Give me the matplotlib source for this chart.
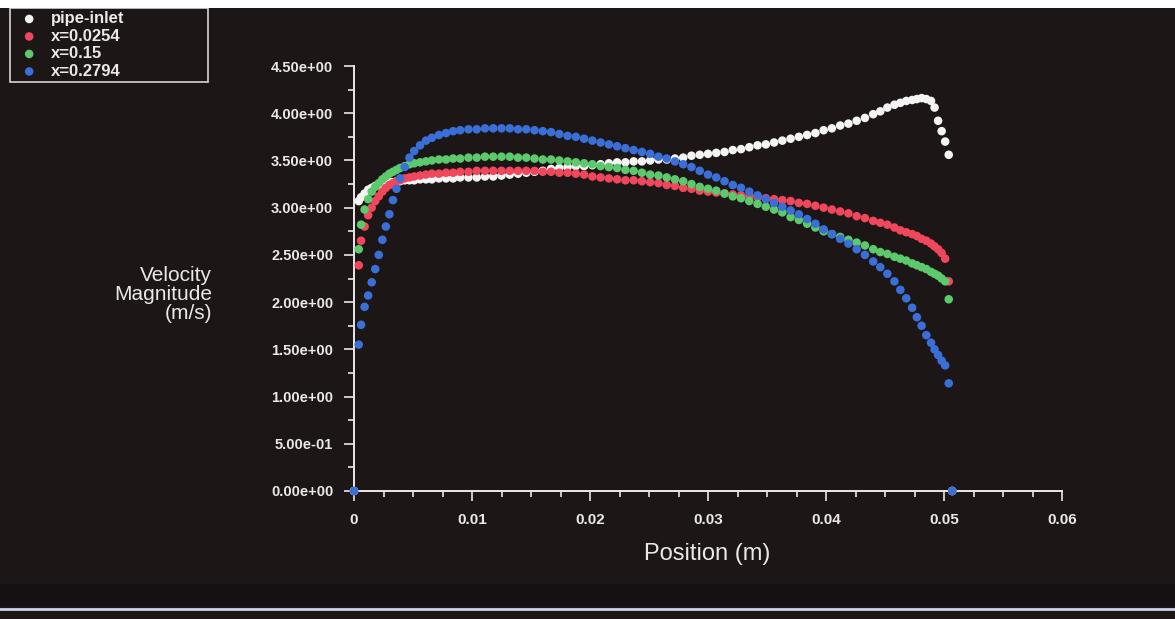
import matplotlib
matplotlib.use("Agg")
import matplotlib.pyplot as plt
import numpy as np
from matplotlib.patches import Rectangle
from matplotlib.lines import Line2D
from matplotlib.ticker import MultipleLocator, FormatStrFormatter

plt.rcParams['font.family'] = ['Liberation Sans', 'DejaVu Sans']

# radial positions of the sampled nodes (m)
position = [
    0.0, 0.0004, 0.0006, 0.0009, 0.0012, 0.0015, 0.0018, 0.0021, 0.0024, 0.0027,
    0.0030, 0.0033, 0.0036, 0.0039, 0.0043, 0.0047, 0.0051, 0.0056, 0.0061, 0.0066,
    0.0072, 0.0078, 0.0084, 0.0090, 0.0097, 0.0104, 0.0111, 0.0118, 0.0125, 0.0132,
    0.0139, 0.0146, 0.0153, 0.0160, 0.0167, 0.0174, 0.0181, 0.0188, 0.0195, 0.0202,
    0.0209, 0.0216, 0.0223, 0.0230, 0.0237, 0.0244, 0.0251, 0.0258, 0.0265, 0.0272,
    0.0279, 0.0286, 0.0293, 0.0300, 0.0307, 0.0314, 0.0321, 0.0328, 0.0335, 0.0342,
    0.0349, 0.0356, 0.0363, 0.0370, 0.0377, 0.0384, 0.0391, 0.0398, 0.0405, 0.0412,
    0.0419, 0.0426, 0.0433, 0.0440, 0.0446, 0.0452, 0.0458, 0.0463, 0.0468, 0.0473,
    0.0477, 0.0481, 0.0485, 0.0489, 0.0492, 0.0495, 0.0498, 0.0501, 0.0504, 0.0507,
]

# velocity magnitude (m/s) on each surface
v_inlet = [
    0.00, 3.07, 3.11, 3.15, 3.19, 3.21, 3.23, 3.24, 3.25, 3.26,
    3.27, 3.27, 3.28, 3.28, 3.29, 3.29, 3.29, 3.30, 3.30, 3.30,
    3.31, 3.31, 3.31, 3.32, 3.32, 3.32, 3.33, 3.33, 3.34, 3.35,
    3.36, 3.37, 3.38, 3.39, 3.41, 3.42, 3.43, 3.44, 3.44, 3.45,
    3.46, 3.47, 3.48, 3.48, 3.49, 3.49, 3.50, 3.51, 3.51, 3.52,
    3.53, 3.55, 3.56, 3.57, 3.58, 3.59, 3.61, 3.62, 3.64, 3.66,
    3.67, 3.69, 3.71, 3.73, 3.75, 3.77, 3.79, 3.82, 3.84, 3.87,
    3.89, 3.92, 3.95, 3.99, 4.02, 4.06, 4.09, 4.11, 4.13, 4.14,
    4.15, 4.16, 4.15, 4.13, 4.06, 3.92, 3.81, 3.70, 3.56, 0.00,
]
v_x0254 = [
    0.00, 2.39, 2.65, 2.80, 2.92, 3.00, 3.07, 3.12, 3.17, 3.21,
    3.24, 3.26, 3.28, 3.29, 3.31, 3.32, 3.33, 3.34, 3.35, 3.36,
    3.36, 3.37, 3.37, 3.38, 3.38, 3.39, 3.39, 3.39, 3.39, 3.39,
    3.39, 3.39, 3.39, 3.38, 3.38, 3.37, 3.37, 3.36, 3.35, 3.33,
    3.32, 3.31, 3.30, 3.29, 3.29, 3.28, 3.27, 3.26, 3.24, 3.23,
    3.21, 3.20, 3.18, 3.17, 3.16, 3.15, 3.14, 3.13, 3.12, 3.11,
    3.10, 3.09, 3.08, 3.07, 3.05, 3.04, 3.02, 3.00, 2.98, 2.96,
    2.94, 2.91, 2.89, 2.86, 2.84, 2.82, 2.79, 2.76, 2.74, 2.72,
    2.70, 2.67, 2.65, 2.62, 2.59, 2.56, 2.52, 2.46, 2.22, 0.00,
]
v_x15 = [
    0.00, 2.56, 2.82, 2.98, 3.09, 3.17, 3.22, 3.26, 3.30, 3.33,
    3.36, 3.38, 3.40, 3.42, 3.44, 3.46, 3.47, 3.48, 3.49, 3.50,
    3.51, 3.51, 3.52, 3.52, 3.53, 3.53, 3.54, 3.54, 3.54, 3.54,
    3.53, 3.53, 3.52, 3.51, 3.51, 3.50, 3.49, 3.48, 3.47, 3.46,
    3.44, 3.43, 3.42, 3.40, 3.39, 3.37, 3.35, 3.34, 3.32, 3.30,
    3.28, 3.25, 3.22, 3.20, 3.18, 3.15, 3.12, 3.10, 3.07, 3.04,
    3.01, 2.98, 2.95, 2.90, 2.87, 2.83, 2.79, 2.75, 2.72, 2.69,
    2.66, 2.63, 2.60, 2.56, 2.53, 2.51, 2.48, 2.46, 2.44, 2.41,
    2.39, 2.37, 2.35, 2.32, 2.30, 2.28, 2.25, 2.22, 2.03, 0.00,
]
v_x2794 = [
    0.00, 1.55, 1.76, 1.95, 2.07, 2.21, 2.35, 2.50, 2.66, 2.80,
    2.93, 3.08, 3.20, 3.31, 3.43, 3.53, 3.60, 3.66, 3.71, 3.74,
    3.77, 3.79, 3.81, 3.82, 3.83, 3.83, 3.84, 3.84, 3.84, 3.84,
    3.83, 3.83, 3.82, 3.81, 3.80, 3.78, 3.76, 3.75, 3.73, 3.71,
    3.69, 3.67, 3.65, 3.63, 3.61, 3.59, 3.57, 3.54, 3.52, 3.49,
    3.46, 3.43, 3.39, 3.35, 3.32, 3.28, 3.24, 3.21, 3.17, 3.13,
    3.09, 3.05, 3.01, 2.97, 2.93, 2.88, 2.83, 2.77, 2.72, 2.67,
    2.62, 2.56, 2.50, 2.43, 2.37, 2.30, 2.22, 2.13, 2.04, 1.94,
    1.84, 1.75, 1.65, 1.57, 1.50, 1.44, 1.38, 1.33, 1.14, 0.00,
]

series_labels = ['pipe-inlet', 'x=0.0254', 'x=0.15', 'x=0.2794']
series_colors = ['#f4f4f4', '#f0475c', '#5cc96c', '#3b6fd8']
x_tick_labels = ['0', '0.01', '0.02', '0.03', '0.04', '0.05', '0.06']

bg = '#1c1616'
fg = '#ece8e8'

fig = plt.figure(figsize=(11.75, 6.19), dpi=100, facecolor=bg)
ax = fig.add_axes([354 / 1175, 1 - 491 / 619, 708 / 1175, 425 / 619])
ax.set_facecolor(bg)

for vals, lab, col in zip([v_inlet, v_x0254, v_x15, v_x2794], series_labels, series_colors):
    ax.scatter(position, vals, s=38, color=col, edgecolors='none',
               label=lab, clip_on=False, zorder=3)

ax.set_xlim(0, 0.06)
ax.set_ylim(0, 4.5)
ax.set_xticks(np.arange(len(x_tick_labels)) * 0.01)
ax.set_xticklabels(x_tick_labels)
ax.xaxis.set_minor_locator(MultipleLocator(0.0025))
ax.yaxis.set_major_locator(MultipleLocator(0.5))
ax.yaxis.set_minor_locator(MultipleLocator(0.25))
ax.yaxis.set_major_formatter(FormatStrFormatter('%.2e'))

for side in ['top', 'right']:
    ax.spines[side].set_visible(False)
for side in ['left', 'bottom']:
    ax.spines[side].set_color(fg)
    ax.spines[side].set_linewidth(1.4)

ax.tick_params(which='both', direction='out', colors=fg, width=1.2)
ax.tick_params(which='major', length=7)
ax.tick_params(which='minor', length=4)
ax.tick_params(axis='y', which='major', labelsize=10.5, pad=8)
ax.tick_params(axis='x', which='major', labelsize=11, pad=9)
for lbl in ax.get_xticklabels() + ax.get_yticklabels():
    lbl.set_fontweight('bold')

ax.set_ylabel('Velocity\nMagnitude\n(m/s)', rotation=0, ha='right', va='center',
              multialignment='right', fontsize=15, color=fg, linespacing=1.0)
ax.yaxis.set_label_coords(-0.2006, 0.4635)
ax.set_xlabel('Position (m)', fontsize=17, color=fg, va='center')
ax.xaxis.set_label_coords(0.4986, -0.148)

leg = ax.legend(loc='upper left', bbox_to_anchor=(10 / 1175, 0, 198 / 1175, 1 - 8 / 619),
                bbox_transform=fig.transFigure, mode='expand', borderaxespad=0,
                frameon=True, fancybox=False, facecolor=bg, edgecolor='#d8d4d4',
                framealpha=1, borderpad=0.2, labelspacing=0.15, handlelength=1.9,
                handletextpad=0.35, markerscale=1.0,
                prop={'size': 12, 'weight': 'bold'})
leg.get_frame().set_linewidth(1.2)
for t in leg.get_texts():
    t.set_color(fg)

# page edges around the graphics window
fig.add_artist(Rectangle((0, 1 - 8 / 619), 1, 8 / 619, transform=fig.transFigure,
                         facecolor='white', edgecolor='none'))
fig.add_artist(Rectangle((0, 1 - 606 / 619), 1, 22 / 619, transform=fig.transFigure,
                         facecolor='#151011', edgecolor='none'))
fig.add_artist(Line2D([0, 1], [1 - 609 / 619] * 2, transform=fig.transFigure,
                      color='#c9d4ea', lw=2.0))

fig.savefig('out.png', dpi=100, facecolor=fig.get_facecolor())
